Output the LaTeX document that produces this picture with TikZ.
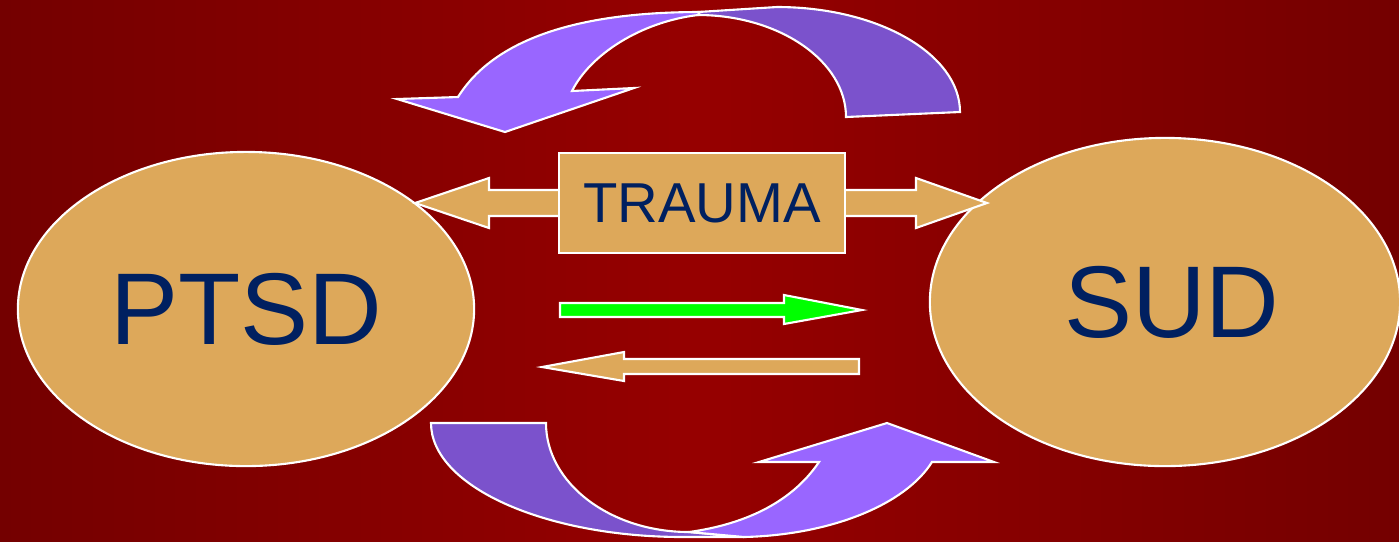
\documentclass[tikz,border=0pt]{standalone}
\usepackage{fontspec}
\setmainfont{Liberation Sans}
\usetikzlibrary{shapes.geometric}
\definecolor{bgdark}{RGB}{116,0,0}
\definecolor{bgmid}{RGB}{150,0,0}
\definecolor{tanfill}{RGB}{221,168,90}
\definecolor{navytext}{RGB}{0,32,96}
\definecolor{lilac}{RGB}{153,102,255}
\definecolor{darklilac}{RGB}{123,82,204}
\definecolor{brightgreen}{RGB}{0,255,0}

\begin{document}
\begin{tikzpicture}[
    x=0.01cm, y=-0.01cm,
    outline/.style={draw=white, line width=0.6pt, line join=miter},
    blob/.style={ellipse, outline, fill=tanfill, text=navytext, inner sep=0pt, font=\fontsize{29}{29}\selectfont},
    tagbox/.style={rectangle, outline, fill=tanfill, text=navytext, inner sep=0pt,
        minimum width=2.86cm, minimum height=1.0cm, font=\fontsize{16}{16}\selectfont},
    front/.style={outline, fill=lilac},
    back/.style={outline, fill=darklilac}
]
    \useasboundingbox (0,0) rectangle (1399,541);
    \shade[left color=bgdark, right color=bgdark, middle color=bgmid] (0,0) rectangle (1399,541);

    % Curved arrow on top
    \draw[back] (846,117) -- (960,112) .. controls (960,54) and (878,7) .. (777,7)
        -- (698,12) -- (698,15) .. controls (779,15) and (846,61) .. (846,117) -- cycle;
    \draw[front] (505,132) -- (397,99) -- (458,97) .. controls (500,30) and (600,12) .. (700,12)
        -- (698,15) .. controls (640,22) and (590,55) .. (572,91) -- (634,88) -- cycle;

    % Curved arrow at the bottom
    \draw[back] (431,423) -- (546,423) .. controls (546,483) and (610,532) .. (689,532)
        -- (744,537) -- (683,537) .. controls (544,537) and (431,486) .. (431,423) -- cycle;
    \draw[front] (887,423) -- (994,462) -- (932,462) .. controls (905,505) and (830,535) .. (744,537)
        -- (689,532) .. controls (740,525) and (790,505) .. (819,462) -- (759,462) -- cycle;

    % Disorders
    \node[blob, minimum width=4.56cm, minimum height=3.14cm] (ptsd) at (246,309) {PTSD};
    \node[blob, minimum width=4.70cm, minimum height=3.28cm] (sud) at (1165,302) {\hspace{3.8pt}SUD};

    % Trauma leads to both
    \coordinate (ptsdtip) at (415,203);
    \coordinate (sudtip) at (987,203);
    \draw[outline, fill=tanfill] (ptsdtip) -- (489,178) -- (489,190) -- (916,190) -- (916,178)
        -- (sudtip) -- (916,228) -- (916,216) -- (489,216) -- (489,228) -- cycle;
    \node[tagbox] (trauma) at (702,203) {TRAUMA};

    % Arrows between the disorders
    \coordinate (fwdtip) at (862,310);
    \coordinate (backtip) at (542,367);
    \draw[outline, fill=brightgreen] (560,303) -- (784,303) -- (784,295) -- (fwdtip)
        -- (784,324) -- (784,317) -- (560,317) -- cycle;
    \draw[outline, fill=tanfill] (859,359) -- (624,359) -- (624,352) -- (backtip)
        -- (624,381) -- (624,374) -- (859,374) -- cycle;
\end{tikzpicture}
\end{document}
